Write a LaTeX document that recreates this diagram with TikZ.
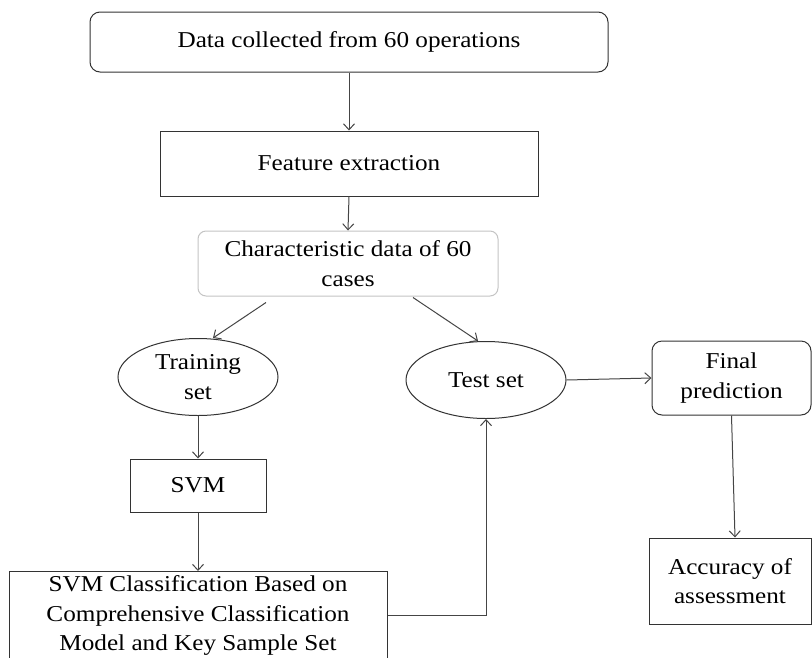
\documentclass[tikz,border=0pt]{standalone}
\usepackage{fontspec}
\setmainfont{Liberation Serif}[FakeStretch=1.11]
\usetikzlibrary{arrows.meta,shapes.geometric,calc}
\definecolor{edge}{HTML}{333333}
\definecolor{lightedge}{HTML}{C4C4C4}
\definecolor{conn}{HTML}{454545}
\begin{document}
\begin{tikzpicture}[x=1pt,y=-1pt,
  font=\fontsize{22.7}{29.5}\selectfont,
  base/.style={draw=edge,line width=1pt,align=center,inner sep=0pt},
  rbox/.style={base,rounded corners=10pt},
  sbox/.style={base},
  gbox/.style={base,draw=lightedge,rounded corners=8pt},
  oval/.style={base,ellipse},
  conn/.style={draw=conn,line width=1pt,-{Straight Barb[length=6pt,width=11pt,line width=1pt]}}
]
\clip (0,0) rectangle (812,657);
\useasboundingbox (0,0) rectangle (812,657);
\fill[white] (0,0) rectangle (812,657);

\node[rbox,minimum width=518pt,minimum height=60pt] (data) at (349,42) {Data collected from 60 operations};
\node[sbox,minimum width=378pt,minimum height=65pt] (feat) at (349,163.5) {Feature extraction};
\node[gbox,minimum width=300pt,minimum height=65pt] (char) at (348,263.5) {Characteristic data of 60\\cases};
\node[oval,minimum width=160pt,minimum height=77pt] (train) at (198,377) {Training\\set};
\node[oval,minimum width=160pt,minimum height=77pt] (test) at (486,380) {Test set};
\node[rbox,minimum width=159pt,minimum height=74pt] (final) at (731.5,378) {Final\\prediction};
\node[sbox,minimum width=136pt,minimum height=53pt] (svm) at (198,485.5) {SVM};
\node[sbox,minimum width=378pt,minimum height=88pt,anchor=north] (svmc) at (198,571) {SVM Classification Based on\\Comprehensive Classification\\Model and Key Sample Set};
\node[sbox,minimum width=162pt,minimum height=86pt] (acc) at (730,581) {Accuracy of\\assessment};

\draw[conn] (data.south) -- (feat.north);
\draw[conn] (feat.south) -- (char.north);
\draw[conn] ([shift={(-82,6)}]char.south) -- ([xshift=15pt]train.north);
\draw[conn] ([shift={(65,1)}]char.south) -- ([xshift=-8pt]test.north);
\draw[conn] (test.east) -- (final.west);
\draw[conn] (final.south) -- ([xshift=5pt]acc.north);
\draw[conn] (train.south) -- (svm.north);
\draw[conn] (svm.south) -- (svmc.north);
\draw[conn] (svmc.east) -| (test.south);
\end{tikzpicture}
\end{document}
